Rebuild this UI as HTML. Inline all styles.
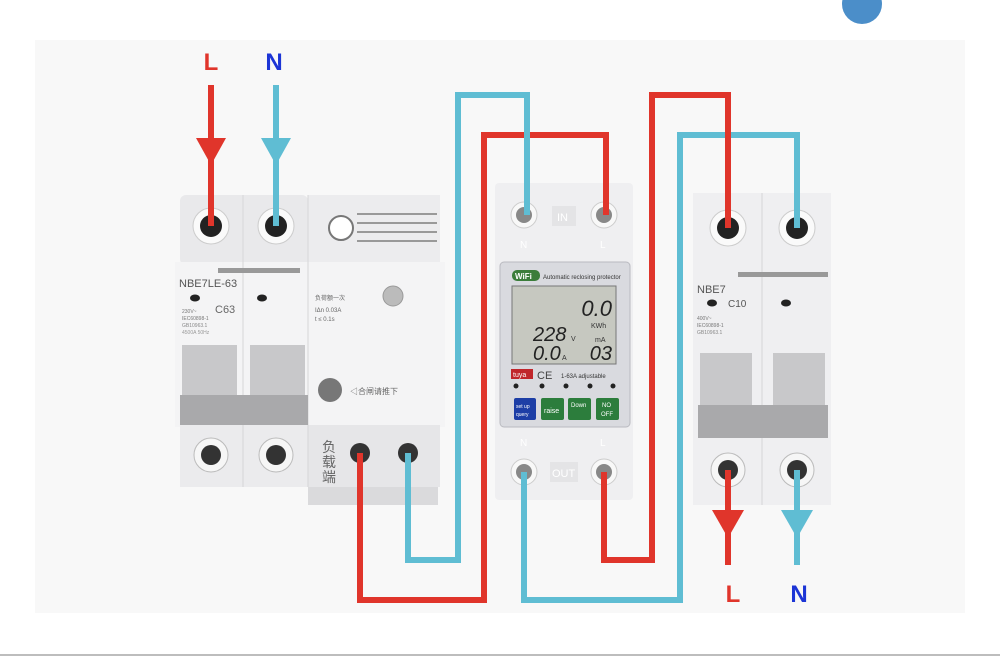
<!DOCTYPE html>
<html><head><meta charset="utf-8"><style>
html,body{margin:0;padding:0;background:#fff;}
svg{display:block;font-family:"Liberation Sans","Noto Sans CJK SC",sans-serif;}
</style></head><body>
<svg width="1000" height="656" viewBox="0 0 1000 656" xmlns="http://www.w3.org/2000/svg">
<rect width="1000" height="656" fill="#fff"/>
<rect x="35" y="40" width="930" height="573" fill="#f8f8f8"/>
<circle cx="862" cy="4" r="20" fill="#4b8ec9"/>
<rect x="0" y="654" width="1000" height="2" fill="#bdbdbd"/>

<!-- LEFT RCBO -->
<g>
<rect x="180" y="195" width="128" height="70" rx="6" fill="#e9e9eb"/>
<rect x="308" y="195" width="132" height="70" fill="#ececee"/>
<rect x="175" y="262" width="270" height="165" fill="#f4f4f5"/>
<rect x="180" y="425" width="128" height="62" fill="#ebebed"/>
<rect x="308" y="425" width="132" height="62" fill="#e6e6e8"/>
<rect x="308" y="487" width="130" height="18" fill="#dadadc"/>
<line x1="243" y1="195" x2="243" y2="487" stroke="#d6d6d8"/>
<line x1="308" y1="195" x2="308" y2="487" stroke="#d6d6d8"/>
<circle cx="211" cy="226" r="18" fill="#fafafa" stroke="#ccc"/>
<circle cx="211" cy="226" r="11" fill="#222"/>
<circle cx="276" cy="226" r="18" fill="#fafafa" stroke="#ccc"/>
<circle cx="276" cy="226" r="11" fill="#222"/>
<circle cx="341" cy="228" r="12" fill="#fff" stroke="#777" stroke-width="2"/>
<g stroke="#999" stroke-width="2"><line x1="357" y1="214" x2="437" y2="214"/><line x1="357" y1="223" x2="437" y2="223"/><line x1="357" y1="232" x2="437" y2="232"/><line x1="357" y1="241" x2="437" y2="241"/></g>
<rect x="218" y="268" width="82" height="5" fill="#999"/>
<text x="179" y="287" font-size="11" fill="#555">NBE7LE-63</text>
<ellipse cx="195" cy="298" rx="5" ry="3.5" fill="#222"/>
<ellipse cx="262" cy="298" rx="5" ry="3.5" fill="#222"/>
<text x="215" y="313" font-size="11" fill="#666">C63</text>
<text x="182" y="313" font-size="5" fill="#777">230V~</text>
<text x="182" y="320" font-size="5" fill="#777">IEC60898-1</text>
<text x="182" y="327" font-size="5" fill="#888">GB10963.1</text>
<text x="182" y="334" font-size="5" fill="#999">4500A 50Hz</text>
<text x="315" y="300" font-size="6" fill="#666">负荷额一次</text>
<text x="315" y="312" font-size="6" fill="#666">IΔn 0.03A</text>
<text x="315" y="321" font-size="6" fill="#666">t  ≤ 0.1s</text>
<circle cx="393" cy="296" r="10" fill="#bbb" stroke="#999"/>
<rect x="182" y="345" width="55" height="60" fill="#c8c8ca"/>
<rect x="250" y="345" width="55" height="60" fill="#c8c8ca"/>
<rect x="180" y="395" width="128" height="30" fill="#a9a9ab"/>
<circle cx="330" cy="390" r="12" fill="#777"/>
<text x="350" y="394" font-size="8" fill="#666">◁合闸请推下</text>
<circle cx="211" cy="455" r="17" fill="#f6f6f6" stroke="#bbb"/>
<circle cx="211" cy="455" r="10" fill="#333"/>
<circle cx="276" cy="455" r="17" fill="#f6f6f6" stroke="#bbb"/>
<circle cx="276" cy="455" r="10" fill="#333"/>
<text x="322" y="452" font-size="14" fill="#666">负</text>
<text x="322" y="467" font-size="14" fill="#666">载</text>
<text x="322" y="482" font-size="14" fill="#666">端</text>
<circle cx="360" cy="453" r="10" fill="#333"/>
<circle cx="408" cy="453" r="10" fill="#333"/>
</g>

<!-- METER -->
<g>
<rect x="495" y="183" width="138" height="317" rx="4" fill="#efeff1"/>
<circle cx="524" cy="215" r="13" fill="#f8f8f8" stroke="#ccc"/><circle cx="524" cy="215" r="8" fill="#888"/>
<circle cx="604" cy="215" r="13" fill="#f8f8f8" stroke="#ccc"/><circle cx="604" cy="215" r="8" fill="#888"/>
<rect x="552" y="206" width="24" height="20" fill="#e4e4e6"/>
<text x="557" y="221" font-size="11" fill="#fff">IN</text>
<text x="520" y="248" font-size="10" fill="#fff">N</text><text x="600" y="248" font-size="10" fill="#fff">L</text>
<rect x="500" y="262" width="130" height="165" rx="4" fill="#d9dadf" stroke="#b9bac0"/>
<rect x="512" y="270" width="28" height="11" rx="5" fill="#3b7d3a"/>
<text x="515" y="279" font-size="8" fill="#fff" font-weight="bold">WiFi</text>
<text x="543" y="279" font-size="6" fill="#333">Automatic reclosing protector</text>
<rect x="512" y="286" width="104" height="78" fill="#c6c8c0" stroke="#777"/>
<text x="612" y="316" font-size="22" fill="#222" text-anchor="end" font-style="italic">0.0</text>
<text x="591" y="328" font-size="7" fill="#333">KWh</text>
<text x="533" y="341" font-size="20" fill="#222" font-style="italic">228</text><text x="571" y="341" font-size="7" fill="#333">V</text>
<text x="595" y="342" font-size="7" fill="#333">mA</text>
<text x="533" y="360" font-size="20" fill="#222" font-style="italic">0.0</text><text x="562" y="360" font-size="7" fill="#333">A</text>
<text x="612" y="360" font-size="20" fill="#222" text-anchor="end" font-style="italic">03</text>
<rect x="511" y="369" width="22" height="10" fill="#c0262b"/><text x="513" y="377" font-size="7" fill="#fff">tuya</text>
<text x="537" y="379" font-size="11" fill="#444">CE</text>
<text x="561" y="378" font-size="6" fill="#333">1-63A adjustable</text>
<g fill="#222"><circle cx="516" cy="386" r="2.5"/><circle cx="542" cy="386" r="2.5"/><circle cx="566" cy="386" r="2.5"/><circle cx="590" cy="386" r="2.5"/><circle cx="613" cy="386" r="2.5"/></g>
<rect x="514" y="398" width="22" height="22" rx="2" fill="#1d3ea6"/>
<rect x="541" y="398" width="23" height="22" rx="2" fill="#2c7d3c"/>
<rect x="568" y="398" width="23" height="22" rx="2" fill="#2c7d3c"/>
<rect x="596" y="398" width="23" height="22" rx="2" fill="#2c7d3c"/>
<text x="516" y="408" font-size="5" fill="#fff">set up</text><text x="516" y="416" font-size="5" fill="#fff">query</text>
<text x="544" y="413" font-size="7" fill="#fff">raise</text>
<text x="571" y="407" font-size="6" fill="#fff">Down</text>
<text x="602" y="407" font-size="6" fill="#fff">NO</text><text x="601" y="416" font-size="6" fill="#fff">OFF</text>
<text x="520" y="446" font-size="10" fill="#fff">N</text><text x="600" y="446" font-size="10" fill="#fff">L</text>
<circle cx="524" cy="472" r="13" fill="#f8f8f8" stroke="#ccc"/><circle cx="524" cy="472" r="8" fill="#888"/>
<circle cx="604" cy="472" r="13" fill="#f8f8f8" stroke="#ccc"/><circle cx="604" cy="472" r="8" fill="#888"/>
<rect x="550" y="462" width="28" height="20" fill="#e4e4e6"/>
<text x="552" y="477" font-size="11" fill="#fff">OUT</text>
</g>

<!-- RIGHT MCB -->
<g>
<rect x="693" y="193" width="138" height="312" fill="#efeff1"/>
<line x1="762" y1="193" x2="762" y2="505" stroke="#d6d6d8"/>
<circle cx="728" cy="228" r="18" fill="#fafafa" stroke="#ccc"/><circle cx="728" cy="228" r="11" fill="#222"/>
<circle cx="797" cy="228" r="18" fill="#fafafa" stroke="#ccc"/><circle cx="797" cy="228" r="11" fill="#222"/>
<rect x="738" y="272" width="90" height="5" fill="#999"/>
<text x="697" y="293" font-size="11" fill="#555">NBE7</text>
<ellipse cx="712" cy="303" rx="5" ry="3.5" fill="#222"/>
<ellipse cx="786" cy="303" rx="5" ry="3.5" fill="#222"/>
<text x="728" y="307" font-size="10" fill="#555">C10</text>
<text x="697" y="320" font-size="5" fill="#777">400V~</text>
<text x="697" y="327" font-size="5" fill="#777">IEC60898-1</text>
<text x="697" y="334" font-size="5" fill="#888">GB10963.1</text>
<rect x="700" y="353" width="52" height="60" fill="#c8c8ca"/>
<rect x="773" y="353" width="52" height="60" fill="#c8c8ca"/>
<rect x="698" y="405" width="130" height="33" fill="#a9a9ab"/>
<circle cx="728" cy="470" r="17" fill="#f6f6f6" stroke="#bbb"/><circle cx="728" cy="470" r="10" fill="#333"/>
<circle cx="797" cy="470" r="17" fill="#f6f6f6" stroke="#bbb"/><circle cx="797" cy="470" r="10" fill="#333"/>
</g>

<!-- WIRES -->
<g fill="none" stroke-width="6" stroke-linejoin="miter">
<polyline points="211,85 211,226" stroke="#e0352b"/>
<polyline points="276,85 276,226" stroke="#5fbdd3"/>
<polyline points="360,453 360,600 484,600 484,135 606,135 606,215" stroke="#e0352b"/>
<polyline points="408,453 408,560 458,560 458,95 527,95 527,215" stroke="#5fbdd3"/>
<polyline points="524,472 524,600 680,600 680,135 797,135 797,228" stroke="#5fbdd3"/>
<polyline points="604,472 604,560 652,560 652,95 728,95 728,228" stroke="#e0352b"/>
<polyline points="728,470 728,565" stroke="#e0352b"/>
<polyline points="797,470 797,565" stroke="#5fbdd3"/>
</g>
<polygon points="196,138 226,138 211,165" fill="#e0352b"/>
<polygon points="261,138 291,138 276,165" fill="#5fbdd3"/>
<polygon points="712,510 744,510 728,538" fill="#e0352b"/>
<polygon points="781,510 813,510 797,538" fill="#5fbdd3"/>
<text x="211" y="70" font-size="24" font-weight="bold" fill="#e0352b" text-anchor="middle">L</text>
<text x="274" y="70" font-size="24" font-weight="bold" fill="#1c35d6" text-anchor="middle">N</text>
<text x="733" y="602" font-size="24" font-weight="bold" fill="#e0352b" text-anchor="middle">L</text>
<text x="799" y="602" font-size="24" font-weight="bold" fill="#1c35d6" text-anchor="middle">N</text>
</svg>
</body></html>
